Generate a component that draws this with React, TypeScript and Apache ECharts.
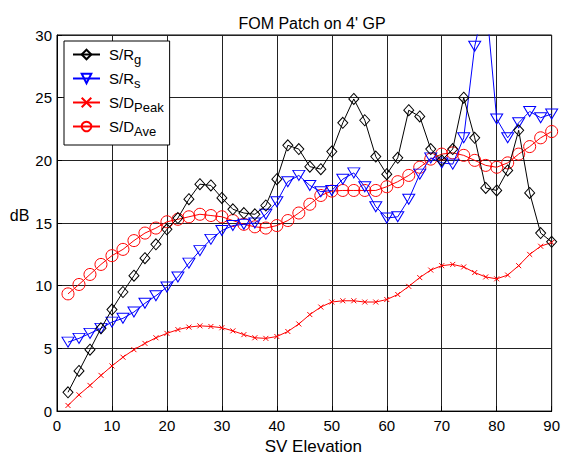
import React, { useEffect, useRef } from "react";
import * as echarts from "echarts";

const elevations = [2,4,6,8,10,12,14,16,18,20,22,24,26,28,30,32,34,36,38,40,42,44,46,48,50,52,54,56,58,60,62,64,66,68,70,72,74,76,78,80,82,84,86,88,90];

const srG = [1.5,3.2,4.9,6.6,8.1,9.5,10.8,12.2,13.3,14.5,15.4,16.9,18.1,18.0,17.0,16.1,15.8,15.7,16.4,18.5,21.2,20.9,19.5,19.3,20.7,23.0,24.9,23.2,20.3,18.9,20.2,24.0,23.5,20.9,20.0,20.9,25.0,21.8,17.8,17.6,19.2,22.4,17.4,14.2,13.5];

const srS = [5.5,5.8,6.2,6.6,7.1,7.4,7.9,8.6,9.2,9.9,10.7,11.8,12.8,13.7,14.4,14.8,14.9,15.0,15.7,16.7,18.3,18.8,18.0,17.5,17.6,18.5,19.0,17.9,16.3,15.4,15.5,16.9,18.9,20.2,19.8,19.7,21.8,29.1,33.0,23.3,21.8,23.0,23.9,23.4,23.7];

const sdPeak = [0.45,1.3,2.05,2.85,3.6,4.3,4.9,5.4,5.85,6.2,6.5,6.7,6.8,6.75,6.65,6.4,6.1,5.85,5.8,5.95,6.35,6.95,7.7,8.3,8.7,8.8,8.8,8.7,8.7,8.9,9.3,9.95,10.65,11.25,11.6,11.7,11.5,11.05,10.7,10.55,10.85,11.6,12.5,13.15,13.45];

const sdAve = [9.35,10.1,10.9,11.7,12.4,12.9,13.6,14.2,14.6,15.1,15.3,15.5,15.7,15.6,15.5,15.2,14.9,14.7,14.6,14.8,15.2,15.8,16.5,17.2,17.55,17.6,17.6,17.6,17.6,17.9,18.3,18.8,19.45,20.1,20.5,20.6,20.4,20.0,19.6,19.45,19.8,20.5,21.1,21.8,22.3];

const seriesNames = ["S/Rg", "S/Rs", "S/DPeak", "S/DAve"];
const legendLabels: Record<string, string> = {
  "S/Rg": "S/R{sub|g}",
  "S/Rs": "S/R{sub|s}",
  "S/DPeak": "S/D{sub|Peak}",
  "S/DAve": "S/D{sub|Ave}",
};

const title = "FOM Patch on 4' GP";
const xName = "SV Elevation";
const yName = "dB";

const FONT = "'Liberation Sans', Arial, Helvetica, sans-serif";

function pairs(vals: number[]) {
  return vals.map((v, i) => [elevations[i], v]);
}

export default function App() {
  const ref = useRef<HTMLDivElement>(null);
  useEffect(() => {
    document.body.style.margin = "0";
    document.documentElement.style.overflow = "hidden";
    if (!ref.current) return;
    const chart = echarts.init(ref.current, null, { renderer: "svg" });
    const base = {
      type: "line" as const,
      clip: true,
      showAllSymbol: true,
    };
    chart.setOption({
      animation: false,
      backgroundColor: "#fff",
      title: {
        text: title,
        left: 307,
        textAlign: "center",
        top: 10,
        textStyle: { fontFamily: FONT, fontSize: 16, fontWeight: "normal", color: "#000" },
      },
      grid: {
        left: 57,
        right: 10,
        top: 35,
        bottom: 40,
        show: true,
        borderColor: "#000",
        borderWidth: 1,
        backgroundColor: "#fff",
      },
      legend: {
        orient: "vertical",
        left: 64,
        top: 41,
        padding: [6, 6, 7, 8],
        itemWidth: 27,
        itemHeight: 12,
        itemGap: 5,
        backgroundColor: "#fff",
        borderColor: "#000",
        borderWidth: 1,
        borderRadius: 0,
        data: seriesNames,
        formatter: (name: string) => legendLabels[name],
        textStyle: {
          fontFamily: FONT,
          fontSize: 15,
          color: "#000",
          padding: [0, 0, 0, 4],
          rich: {
            sub: { fontFamily: FONT, fontSize: 13, color: "#000", padding: [10, 0, 0, 0] },
          },
        },
      },
      xAxis: {
        type: "value",
        min: 0,
        max: 90,
        interval: 10,
        name: xName,
        nameLocation: "middle",
        nameGap: 22,
        nameTextStyle: { fontFamily: FONT, fontSize: 17, color: "#000", padding: [0, 0, 0, 18] },
        axisLine: { show: true, onZero: false, lineStyle: { color: "#000", width: 1 } },
        axisTick: { show: true, inside: true, length: 5, lineStyle: { color: "#000" } },
        axisLabel: { fontFamily: FONT, fontSize: 15, color: "#000", margin: 7 },
        splitLine: { show: true, lineStyle: { color: "#222", width: 1 } },
      },
      yAxis: {
        type: "value",
        min: 0,
        max: 30,
        interval: 5,
        name: yName,
        nameLocation: "middle",
        nameRotate: 0,
        nameGap: 24,
        nameTextStyle: { fontFamily: FONT, fontSize: 16, color: "#000", verticalAlign: "bottom" },
        axisLine: { show: true, lineStyle: { color: "#000", width: 1 } },
        axisTick: { show: true, inside: true, length: 5, lineStyle: { color: "#000" } },
        axisLabel: { fontFamily: FONT, fontSize: 15, color: "#000", margin: 5 },
        splitLine: { show: true, lineStyle: { color: "#222", width: 1 } },
      },
      series: [
        {
          ...base,
          name: seriesNames[0],
          data: pairs(srG),
          symbol: "diamond",
          symbolSize: [10, 11],
          lineStyle: { color: "#000", width: 1 },
          itemStyle: { color: "rgba(0,0,0,0)", borderColor: "#000", borderWidth: 1 },
          z: 4,
        },
        {
          ...base,
          name: seriesNames[1],
          data: pairs(srS),
          symbol: "triangle",
          symbolRotate: 180,
          symbolSize: [12, 10],
          lineStyle: { color: "#0000ff", width: 1 },
          itemStyle: { color: "rgba(0,0,0,0)", borderColor: "#0000ff", borderWidth: 1 },
          z: 3,
        },
        {
          ...base,
          name: seriesNames[2],
          data: pairs(sdPeak),
          symbol: "path://M0,0L10,10M10,0L0,10",
          symbolSize: 5,
          lineStyle: { color: "#ff0000", width: 1 },
          itemStyle: { color: "rgba(0,0,0,0)", borderColor: "#ff0000", borderWidth: 1 },
          z: 2,
        },
        {
          ...base,
          name: seriesNames[3],
          data: pairs(sdAve),
          symbol: "circle",
          symbolSize: 12,
          lineStyle: { color: "#ff0000", width: 1 },
          itemStyle: { color: "rgba(0,0,0,0)", borderColor: "#ff0000", borderWidth: 1 },
          z: 2,
        },
      ],
    });
    return () => chart.dispose();
  }, []);
  return <div ref={ref} style={{ width: 563, height: 460 }} />;
}
